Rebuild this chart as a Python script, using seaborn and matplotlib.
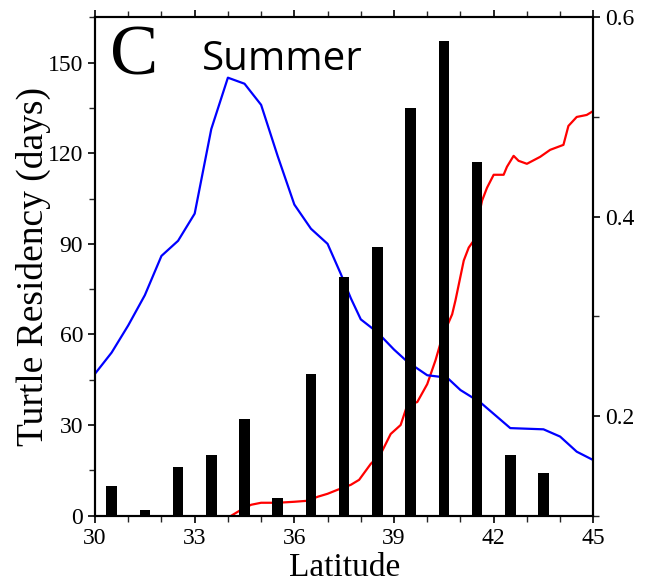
import seaborn as sns
import pandas as pd
import matplotlib.pyplot as plt
from matplotlib.ticker import MultipleLocator

# Bar data: turtle residency (days) per 1-degree latitude bin
bar_lat = [30.5, 31.5, 32.5, 33.5, 34.5, 35.5, 36.5, 37.5, 38.5, 39.5, 40.5, 41.5, 42.5, 43.5]
bar_days = [10, 2, 16, 20, 32, 6, 47, 79, 89, 135, 157, 117, 20, 14]

# Blue line (left axis)
blue_lat = [30.0, 30.5, 31.0, 31.5, 32.0, 32.5, 33.0, 33.5, 34.0, 34.5, 35.0, 35.5, 36.0, 36.5,
            37.0, 37.4, 37.7, 38.0, 38.35, 38.65, 39.0, 39.4, 40.0, 40.6, 41.0, 41.6, 42.5, 43.5,
            44.0, 44.5, 45.0]
blue_val = [47, 54, 63, 73, 86, 91, 100, 128, 145, 143, 136, 119, 103, 95,
            90, 80, 72, 65, 62, 59, 55, 51, 46.5, 45.7, 41.6, 37.5, 29, 28.6,
            26.2, 21.2, 18.4]

# Red line (right axis)
red_lat = [34.1, 34.4, 34.7, 35.0, 35.5, 36.0, 36.4, 36.7, 37.0, 37.3, 37.7, 37.95, 38.3, 38.6,
           38.9, 39.2, 39.4, 39.7, 40.0, 40.25, 40.45, 40.75, 40.85, 41.1, 41.25, 41.4, 41.65,
           41.8, 42.0, 42.3, 42.4, 42.6, 42.75, 43.0, 43.4, 43.7, 44.1, 44.25, 44.5, 44.8, 45.0]
red_val = [0.100, 0.106, 0.111, 0.113, 0.113, 0.114, 0.115, 0.119, 0.122, 0.126, 0.131, 0.136,
           0.152, 0.162, 0.182, 0.191, 0.211, 0.214, 0.232, 0.256, 0.279, 0.302, 0.316, 0.356,
           0.369, 0.376, 0.416, 0.429, 0.442, 0.442, 0.450, 0.461, 0.456, 0.453, 0.460, 0.467,
           0.472, 0.491, 0.500, 0.502, 0.506]

df_bar = pd.DataFrame({"lat": bar_lat, "days": bar_days})
df_blue = pd.DataFrame({"lat": blue_lat, "val": blue_val})
df_red = pd.DataFrame({"lat": red_lat, "val": red_val})

sns.set_theme(style="ticks")
plt.rcParams["font.family"] = ["Liberation Serif", "DejaVu Serif"]
plt.rcParams["text.color"] = "black"
plt.rcParams["axes.labelcolor"] = "black"

fig = plt.figure(figsize=(6.45, 5.83), dpi=100)
ax = fig.add_axes([0.1473, 0.1154, 0.7726, 0.855])
ax2 = ax.twinx()

# red line on the right axis, drawn behind the bars
sns.lineplot(data=df_red, x="lat", y="val", ax=ax2, color="#ff0000", lw=1.6, sort=False)
ax2.set_ylim(0.1, 0.6)
ax2.set_ylabel("")
ax2.yaxis.set_major_locator(MultipleLocator(0.2))
ax2.yaxis.set_minor_locator(MultipleLocator(0.1))

# bars and blue line on left axis, in front
ax.set_zorder(ax2.get_zorder() + 1)
ax.patch.set_visible(False)
sns.lineplot(data=df_blue, x="lat", y="val", ax=ax, color="#0000ff", lw=1.6, sort=False, zorder=2)
sns.barplot(data=df_bar, x="lat", y="days", ax=ax, native_scale=True, width=0.32,
            color="black", saturation=1, edgecolor="none", zorder=3)

ax.set_xlim(30, 45)
ax.set_ylim(0, 165)
ax.xaxis.set_major_locator(MultipleLocator(3))
ax.xaxis.set_minor_locator(MultipleLocator(1))
ax.yaxis.set_major_locator(MultipleLocator(30))
ax.yaxis.set_minor_locator(MultipleLocator(15))
ax.tick_params(axis="x", which="both", top=True)

for a in (ax, ax2):
    for s in a.spines.values():
        s.set_visible(True)
        s.set_linewidth(1.5)
        s.set_color("black")
    a.tick_params(which="major", length=5, width=1.2, direction="out", labelsize=17, colors="black")
    a.tick_params(which="minor", length=4, width=1.0, direction="out")

ax.set_xlabel("Latitude", fontsize=24, labelpad=3)
ax.set_ylabel("Turtle Residency (days)", fontsize=27, labelpad=-2)

ax.text(0.03, 0.985, "C", transform=ax.transAxes, fontsize=52, va="top", ha="left", color="black")
ax.text(0.215, 0.955, "Summer", transform=ax.transAxes, fontsize=29, va="top", ha="left",
        color="black", family=["Open Sans", "DejaVu Sans"])

fig.savefig("out.png", dpi=100)
